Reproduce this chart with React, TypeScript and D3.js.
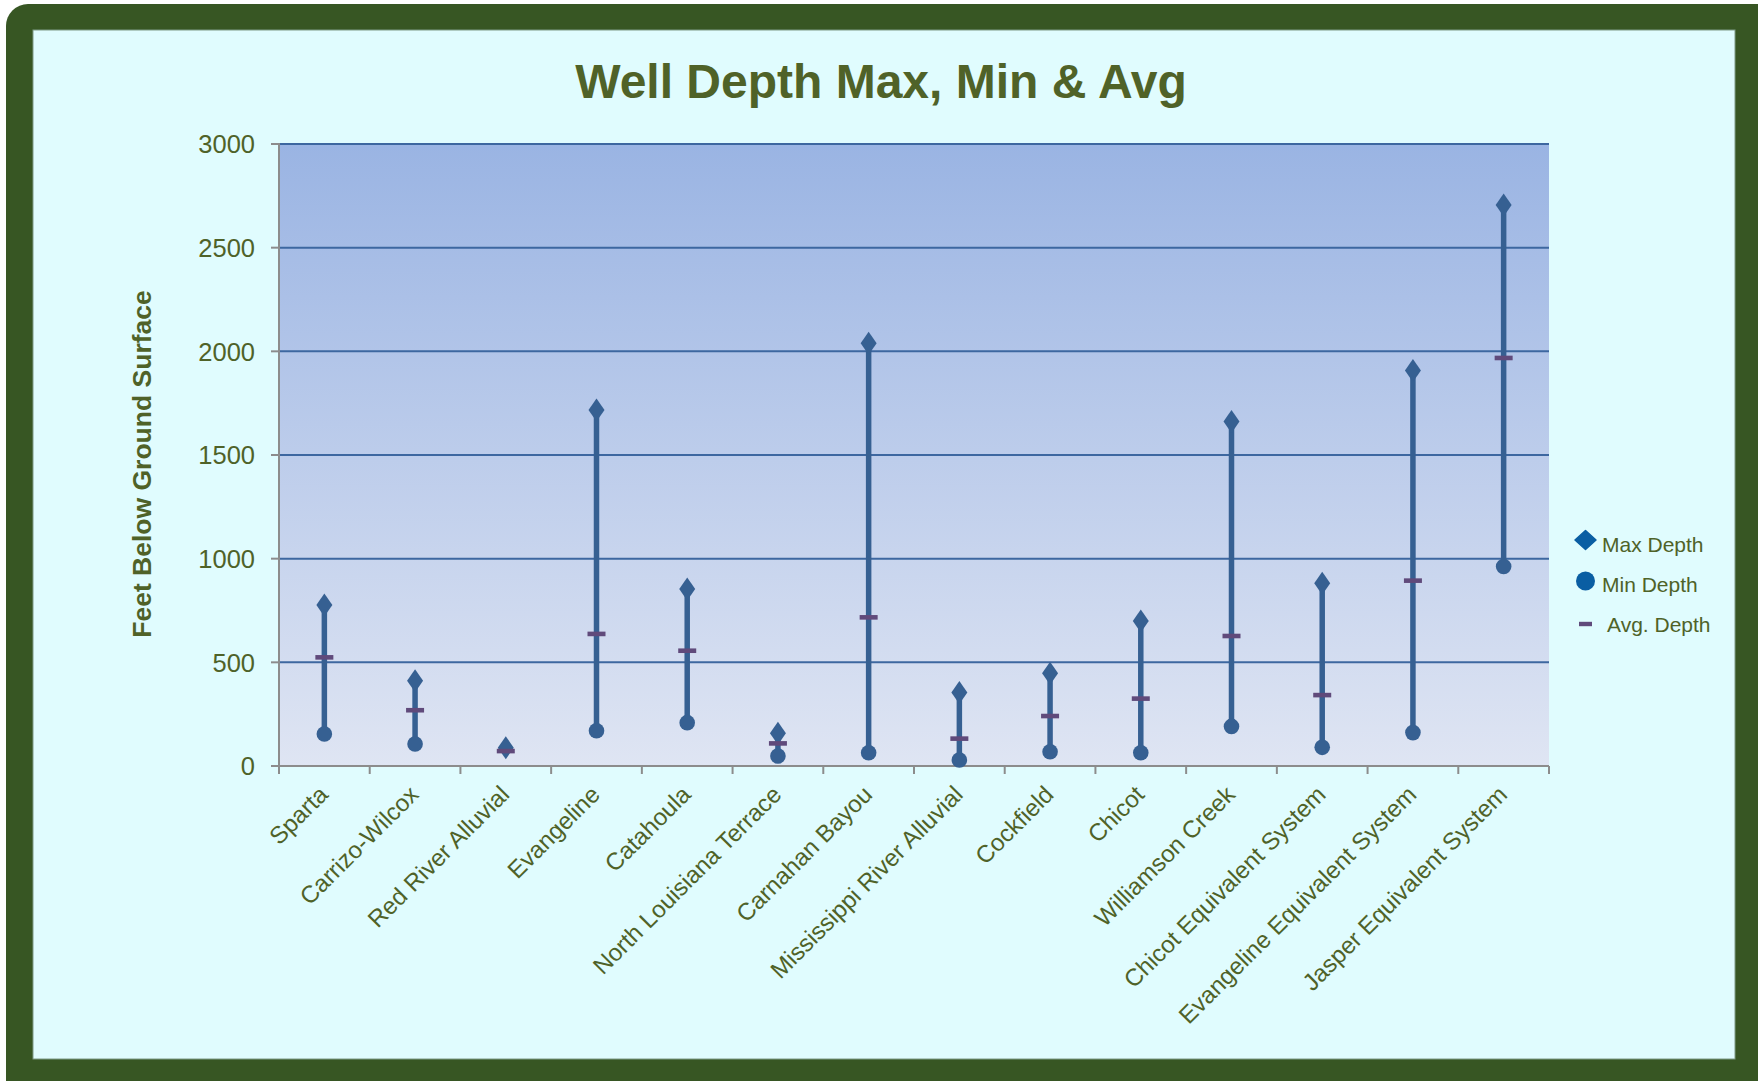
import React, { Component } from 'react';
import * as d3 from 'd3';

const categories = [
  'Sparta',
  'Carrizo-Wilcox',
  'Red River Alluvial',
  'Evangeline',
  'Catahoula',
  'North Louisiana Terrace',
  'Carnahan Bayou',
  'Mississippi River Alluvial',
  'Cockfield',
  'Chicot',
  'Williamson Creek',
  'Chicot Equivalent System',
  'Evangeline Equivalent System',
  'Jasper Equivalent System'
];
const maxDepth = [776, 411, 88, 1717, 854, 158, 2039, 354, 447, 699, 1661, 881, 1907, 2706];
// Red River Alluvial shows no min marker in the source
const minDepth: (number | null)[] = [154, 106, null, 170, 209, 48, 64, 29, 69, 64, 191, 90, 161, 962];
const avgDepth = [524, 269, 72, 637, 556, 109, 717, 132, 241, 325, 627, 342, 894, 1968];
const yTicks = [0, 500, 1000, 1500, 2000, 2500, 3000];
const legendItems = ['Max Depth', 'Min Depth', 'Avg. Depth'];

const W = 1758,
  H = 1081;
const textColor = '#4f6228';
const markColor = '#366092';
const avgColor = '#604a7b';
const legendBlue = '#0a5ea3';
const font = '"Liberation Sans", Arial, sans-serif';

class WellDepthChart extends Component {
  el: SVGGElement | null = null;

  componentDidMount() {
    this.drawChart();
  }
  componentDidUpdate() {
    this.drawChart();
  }

  drawChart() {
    const plot = { left: 279, right: 1549, top: 144, bottom: 766 };
    const g = d3.select(this.el);
    g.selectAll('*').remove();

    const x = d3.scaleBand().domain(categories).range([plot.left, plot.right]).padding(0);
    const y = d3.scaleLinear().domain([0, 3000]).range([plot.bottom, plot.top]);
    const cx = (i: number) => (x(categories[i]) as number) + x.bandwidth() / 2;

    // plot background
    g.append('rect')
      .attr('x', plot.left)
      .attr('y', plot.top)
      .attr('width', plot.right - plot.left)
      .attr('height', plot.bottom - plot.top)
      .attr('fill', 'url(#plotGrad)');

    // gridlines
    g.append('g')
      .selectAll('line')
      .data(yTicks.filter(d => d > 0))
      .enter()
      .append('line')
      .attr('x1', plot.left)
      .attr('x2', plot.right)
      .attr('y1', d => y(d))
      .attr('y2', d => y(d))
      .attr('stroke', '#3d67a0')
      .attr('stroke-width', 2);

    // y axis
    g.append('line')
      .attr('x1', plot.left)
      .attr('x2', plot.left)
      .attr('y1', plot.top - 1)
      .attr('y2', plot.bottom + 1)
      .attr('stroke', '#8c8c8c')
      .attr('stroke-width', 2);
    g.append('g')
      .selectAll('line')
      .data(yTicks)
      .enter()
      .append('line')
      .attr('x1', plot.left - 8)
      .attr('x2', plot.left)
      .attr('y1', d => y(d))
      .attr('y2', d => y(d))
      .attr('stroke', '#8c8c8c')
      .attr('stroke-width', 2);
    g.append('g')
      .selectAll('text')
      .data(yTicks)
      .enter()
      .append('text')
      .attr('x', 255)
      .attr('y', d => y(d))
      .attr('dy', '0.36em')
      .attr('text-anchor', 'end')
      .style('font-family', font)
      .style('font-size', '25.5px')
      .attr('fill', textColor)
      .text(d => d);

    // x axis
    g.append('line')
      .attr('x1', plot.left)
      .attr('x2', plot.right)
      .attr('y1', plot.bottom)
      .attr('y2', plot.bottom)
      .attr('stroke', '#8c8c8c')
      .attr('stroke-width', 2);
    g.append('g')
      .selectAll('line')
      .data(d3.range(categories.length + 1))
      .enter()
      .append('line')
      .attr('x1', i => plot.left + i * x.bandwidth())
      .attr('x2', i => plot.left + i * x.bandwidth())
      .attr('y1', plot.bottom)
      .attr('y2', plot.bottom + 8)
      .attr('stroke', '#8c8c8c')
      .attr('stroke-width', 2);
    g.append('g')
      .selectAll('text')
      .data(categories)
      .enter()
      .append('text')
      .attr('transform', (d, i) => `translate(${cx(i) + 5}, 796) rotate(-45)`)
      .attr('text-anchor', 'end')
      .style('font-family', font)
      .style('font-size', '24px')
      .attr('fill', textColor)
      .text(d => d);

    // high-low lines
    g.append('g')
      .selectAll('line')
      .data(d3.range(categories.length).filter(i => minDepth[i] !== null))
      .enter()
      .append('line')
      .attr('x1', i => cx(i))
      .attr('x2', i => cx(i))
      .attr('y1', i => y(minDepth[i] as number))
      .attr('y2', i => y(maxDepth[i]))
      .attr('stroke', markColor)
      .attr('stroke-width', 5.5);

    // min circles
    g.append('g')
      .selectAll('circle')
      .data(d3.range(categories.length).filter(i => minDepth[i] !== null))
      .enter()
      .append('circle')
      .attr('cx', i => cx(i))
      .attr('cy', i => y(minDepth[i] as number))
      .attr('r', 7.8)
      .attr('fill', markColor);

    // max diamonds
    g.append('g')
      .selectAll('path')
      .data(maxDepth)
      .enter()
      .append('path')
      .attr('d', (d, i) => {
        const px = cx(i),
          py = y(d);
        return `M${px},${py - 11.5} L${px + 8},${py} L${px},${py + 11.5} L${px - 8},${py} Z`;
      })
      .attr('fill', markColor);

    // avg dashes
    g.append('g')
      .selectAll('rect')
      .data(avgDepth)
      .enter()
      .append('rect')
      .attr('x', (d, i) => cx(i) - 9)
      .attr('y', d => y(d) - 2.3)
      .attr('width', 18)
      .attr('height', 4.6)
      .attr('fill', avgColor);

    // legend
    const legendY = [540, 581, 624];
    const lg = g.append('g');
    lg.append('path')
      .attr('d', `M1585.5,${legendY[0] - 9.5} L1596,${legendY[0]} L1585.5,${legendY[0] + 9.5} L1575,${legendY[0]} Z`)
      .attr('fill', legendBlue)
      .attr('stroke', legendBlue)
      .attr('stroke-linejoin', 'round')
      .attr('stroke-width', 1.5);
    lg.append('circle')
      .attr('cx', 1585.5)
      .attr('cy', legendY[1])
      .attr('r', 9.5)
      .attr('fill', legendBlue);
    lg.append('rect')
      .attr('x', 1579)
      .attr('y', legendY[2] - 2.2)
      .attr('width', 13)
      .attr('height', 4.4)
      .attr('fill', avgColor);
    lg.selectAll('text')
      .data(legendItems)
      .enter()
      .append('text')
      .attr('x', (d, i) => (i === 2 ? 1607 : 1602))
      .attr('y', (d, i) => [552, 592, 632][i])
      .style('font-family', font)
      .style('font-size', '21px')
      .attr('fill', textColor)
      .text(d => d);
  }

  render() {
    return (
      <div style={{ position: 'absolute', left: 0, top: 0, width: W, height: H, overflow: 'hidden' }}>
        <svg width={W} height={H} style={{ display: 'block' }}>
          <defs>
            <linearGradient id="plotGrad" x1="0" y1="0" x2="0" y2="1">
              <stop offset="0%" stopColor="#9ab4e3" />
              <stop offset="100%" stopColor="#dfe5f3" />
            </linearGradient>
          </defs>
          <rect x={0} y={0} width={W} height={H} fill="#ffffff" />
          <rect x={6} y={4} width={1790} height={1110} rx={22} fill="#375623" />
          <rect x={33} y={30} width={1702} height={1029} fill="#e0fcfe" stroke="#7e9a86" strokeWidth={1} />
          <text
            x={881}
            y={98}
            textAnchor="middle"
            style={{ fontFamily: font, fontSize: 48, fontWeight: 'bold', fill: textColor }}
          >
            Well Depth Max, Min &amp; Avg
          </text>
          <text
            transform="translate(151, 464) rotate(-90)"
            textAnchor="middle"
            style={{ fontFamily: font, fontSize: 26.5, fontWeight: 'bold', fill: textColor }}
          >
            Feet Below Ground Surface
          </text>
          <g ref={el => (this.el = el)} />
        </svg>
      </div>
    );
  }
}

export default function App() {
  return <WellDepthChart />;
}
